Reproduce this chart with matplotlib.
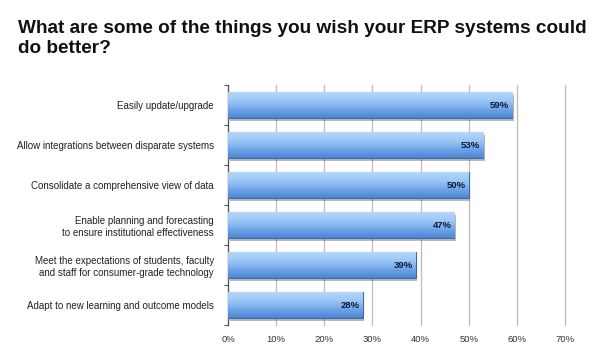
import numpy as np
import matplotlib
matplotlib.use("Agg")
import matplotlib.pyplot as plt
from matplotlib.patches import Rectangle
from matplotlib.colors import LinearSegmentedColormap

categories = [
    "Easily update/upgrade",
    "Allow integrations between disparate systems",
    "Consolidate a comprehensive view of data",
    "Enable planning and forecasting\nto ensure institutional effectiveness",
    "Meet the expectations of students, faculty\nand staff for consumer-grade technology",
    "Adapt to new learning and outcome models",
]
values = [59, 53, 50, 47, 39, 28]
xticks = [0, 10, 20, 30, 40, 50, 60, 70]
xticklabels = ["0%", "10%", "20%", "30%", "40%", "50%", "60%", "70%"]
title = "What are some of the things you wish your ERP systems could\ndo better?"

fam = ["Liberation Sans", "DejaVu Sans"]

fig = plt.figure(figsize=(6.0, 3.53), dpi=100)
ax = fig.add_axes([228/600, 1 - 325/353, (565-228)/600, 240/353])

n = len(categories)
ypos = np.arange(n)
bars = ax.barh(ypos, values, height=0.65, color="#7fb2ee", edgecolor="#3f6aa0",
               linewidth=0.8, zorder=3)

grad = np.linspace(0, 1, 256).reshape(-1, 1)
cmap = LinearSegmentedColormap.from_list("g", ["#b4d6fb", "#9cc7f5", "#6fa5e8", "#4a84d2"])
for i, b in enumerate(bars):
    x0, y0 = b.get_x(), b.get_y()
    w, h = b.get_width(), b.get_height()
    sh = Rectangle((x0 + 0.35, y0 + 0.08), w, h, color="#666666", alpha=0.45,
                   zorder=2, linewidth=0)
    ax.add_patch(sh)
    im = ax.imshow(grad, cmap=cmap, aspect="auto", extent=(x0, x0 + w, y0 + h, y0),
                   zorder=3.5, interpolation="bicubic")
    im.set_clip_path(b)
    ax.text(x0 + w - 0.6, y0 + h / 2, f"{values[i]}%",
            ha="right", va="center", fontsize=6.8, fontweight="bold",
            color="#0d1a3a", family=fam, zorder=5)

ax.set_xlim(0, 70)
ax.set_ylim(n - 0.5, -0.5)
ax.set_xticks(xticks)
ax.set_xticklabels(xticklabels, fontsize=6.8, color="#333333", family=fam)
ax.set_yticks(ypos)
ax.set_yticklabels(categories, fontsize=7, color="#222222", family=fam, ha="right")
ax.tick_params(axis="y", length=0, pad=10)
ax.tick_params(axis="x", length=0, pad=7)
ax.set_yticks(np.arange(n + 1) - 0.5, minor=True)
ax.tick_params(axis="y", which="minor", length=3, width=0.8, color="#555555", direction="out")

ax.grid(axis="x", color="#bbbbbb", linewidth=0.9, zorder=0)
for gl in ax.get_xgridlines():
    gl.set_clip_on(False)
for s in ["top", "right", "bottom"]:
    ax.spines[s].set_visible(False)
ax.spines["left"].set_color("#555555")
ax.spines["left"].set_linewidth(0.9)
ax.set_axisbelow(True)

fig.text(18/600, 1 - 20/353, title, fontsize=13.7, fontweight="bold",
         family=fam, va="top", ha="left", color="#111111", linespacing=1.25)

fig.savefig("out.png", dpi=100)
